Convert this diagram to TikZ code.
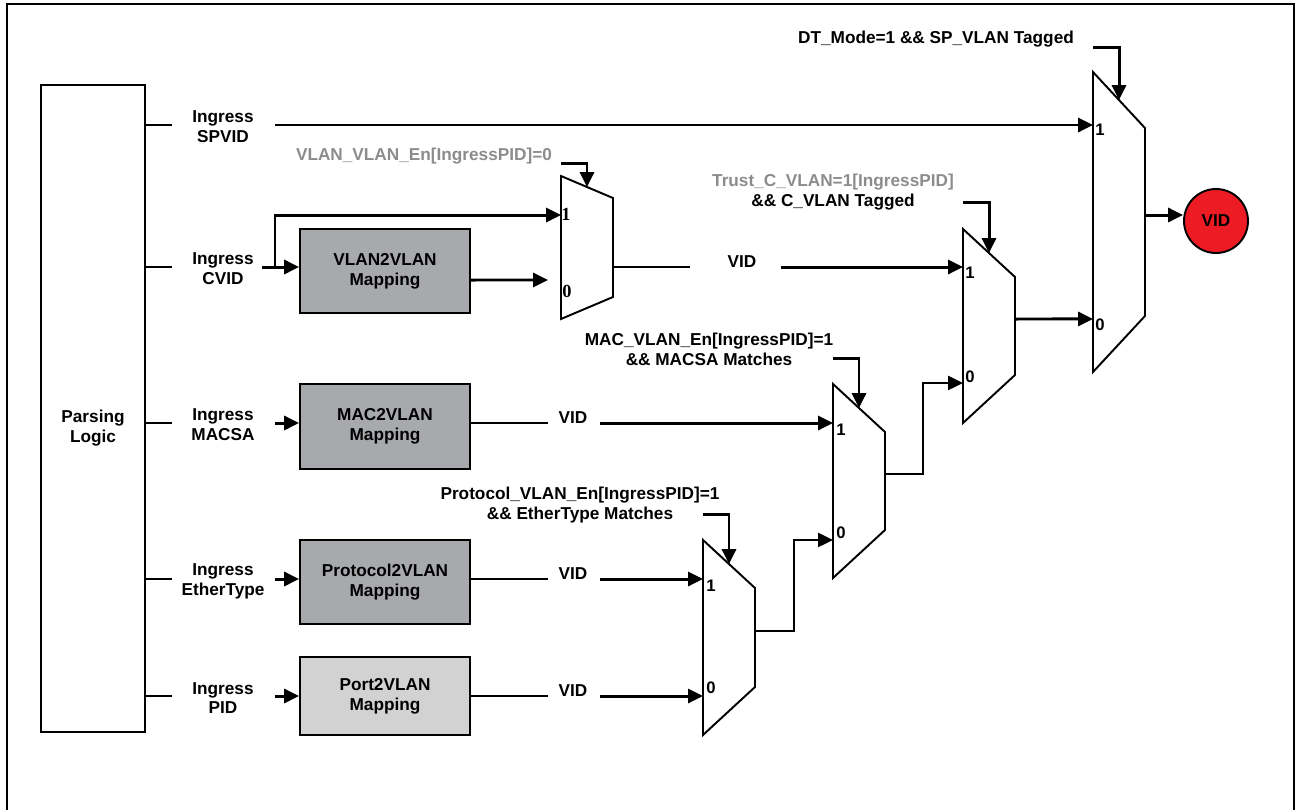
\documentclass[tikz,border=0pt]{standalone}
\usepackage{fontspec}
\setmainfont{Liberation Sans}
\newfontfamily\numserif{Liberation Serif}
\usetikzlibrary{positioning,arrows.meta,calc}
\definecolor{grisosc}{HTML}{A7A9AC}
\definecolor{grisclaro}{HTML}{D2D2D2}
\definecolor{gristxt}{HTML}{8C8C8C}
\definecolor{rojo}{HTML}{ED1C24}

% trapezoid of a multiplexer drawn round an empty node
\newcommand{\muxgate}[2]{%
  \draw[mx] (#1.north west) -- ($(#1.north east)+(0,#2)$)
    -- ($(#1.south east)+(0,-#2)$) -- (#1.south west) -- cycle;}

\begin{document}
\begin{tikzpicture}[x=0.02cm, y=-0.02cm,
    font=\fontsize{9.8}{11.3}\selectfont\bfseries,
    lbl/.style={align=center, inner sep=0pt},
    map/.style={draw, line width=1.1pt, minimum width=3.4cm, minimum height=1.68cm,
                align=center, inner sep=0pt},
    muxb/.style={minimum width=1.04cm, inner sep=0pt, outer sep=0pt},
    mx/.style={line width=1.1pt},
    sel/.style={align=center, inner sep=0pt},
    pin01/.style={inner sep=0pt, font=\fontsize{9.5}{10}\selectfont\bfseries},
    stub/.style={line width=1.1pt},
    arr/.style={-{Triangle[length=8.5pt,width=8pt]}, line width=1.7pt}]
  \useasboundingbox (0,0) rectangle (1296,809);
  \draw[line width=1.5pt] (7,830) -- (7,4) -- (1294,4) -- (1294,830);

  % parsing block and its outputs
  \node[draw, line width=1.1pt, minimum width=2.08cm, minimum height=12.94cm,
        inner sep=0pt] (parse) at (93,408.5) {};
  \node[lbl] (parsetxt) at (93,428) {Parsing\\Logic};
  \node[lbl] (spvid) at (223,127) {Ingress\\SPVID};
  \node[lbl] (cvid) at (223,269) {Ingress\\CVID};
  \node[lbl] (macsa) at (223,425) {Ingress\\MACSA};
  \node[lbl] (ethtype) at (223,581) {Ingress\\EtherType};
  \node[lbl] (pid) at (223,698) {Ingress\\PID};
  \foreach \n in {spvid,cvid,macsa,ethtype,pid}
    \draw[stub] ($(parse.east |- \n)+(0,-2)$) -- ++(26,0);

  % mapping tables
  \node[map, fill=grisosc] (v2v) at (385,271) {VLAN2VLAN\\Mapping};
  \node[map, fill=grisosc, minimum height=1.7cm] (mac2v) at (385,426.5) {MAC2VLAN\\Mapping};
  \node[map, fill=grisosc] (pro2v) at (385,582) {Protocol2VLAN\\Mapping};
  \node[map, fill=grisclaro, minimum height=1.56cm] (port2v) at (385,696) {Port2VLAN\\Mapping};

  % multiplexers
  \node[muxb, minimum height=2.86cm] (m1) at (587,247.5) {};
  \node[muxb, minimum height=3.88cm] (m2) at (859,481) {};
  \node[muxb, minimum height=3.88cm] (m3) at (989,326) {};
  \node[muxb, minimum height=6cm] (m4) at (1119,222) {};
  \node[muxb, minimum height=3.9cm] (m5) at (729,637.5) {};
  \muxgate{m1}{22}
  \muxgate{m2}{48}
  \muxgate{m3}{48}
  \muxgate{m4}{56}
  \muxgate{m5}{48}
  \node[pin01, font=\numserif\fontsize{10.5}{11}\selectfont\bfseries] (m1a) at (566,214) {1};
  \node[pin01, font=\numserif\fontsize{10.5}{11}\selectfont\bfseries] (m1b) at (567,291) {0};
  \node[pin01] (m4a) at (1100,130) {1};
  \node[pin01] (m4b) at (1100,325) {0};
  \node[pin01] (m3a) at (970,273) {1};
  \node[pin01] (m3b) at (970,377) {0};
  \node[pin01] (m2a) at (841,429.5) {1};
  \node[pin01] (m2b) at (841,533) {0};
  \node[pin01] (m5a) at (711,586) {1};
  \node[pin01] (m5b) at (711,688) {0};

  % ingress fields into tables
  \draw[arr] ($(spvid)+(52,-2)$) -- ($(m4.west |- spvid)+(0,-2)$);
  \draw[arr] ($(cvid)+(39,-2)$) -- ($(v2v.west |- cvid)+(0,-2)$);
  \draw[arr] ($(cvid)+(52,-2)$) |- ($(m1.north west)+(0,39)$);
  \foreach \n/\b in {macsa/mac2v, ethtype/pro2v, pid/port2v}
    \draw[arr] ($(\n)+(52,-2)$) -- ($(\b.west |- \n)+(0,-2)$);
  \draw[arr] ($(v2v.east)+(0,9)$) -- ($(m1.south west)+(-13,-39)$);

  % table results
  \node[lbl, anchor=base] (vid1) at (742,267) {VID};
  \node[lbl, anchor=base] (vid2) at (573,423) {VID};
  \node[lbl, anchor=base] (vid3) at (573,579) {VID};
  \node[lbl, anchor=base] (vid4) at (573,696) {VID};
  \draw[stub] (m1.east |- vid1.base) -- ++(77,0);
  \draw[arr] ($(vid1.base)+(39,0)$) -- (m3.west |- vid1.base);
  \foreach \b/\v/\m in {mac2v/vid2/m2, pro2v/vid3/m5, port2v/vid4/m5} {
    \draw[stub] (\b.east |- \v.base) -- ++(77,0);
    \draw[arr] ($(\v.base)+(27,0)$) -- (\m.west |- \v.base);
  }

  % mux chain
  \draw[arr, line width=1.2pt] ($(m5.east)+(0,-6.5)$) -- ++(39,0) |- ($(m2.south west)+(0,-38)$);
  \draw[arr, line width=1.2pt] ($(m2.east)+(0,-7)$) -- ++(38,0) |- ($(m3.south west)+(0,-40)$);
  \draw[arr] ($(m3.east)+(0,-7)$) -- ($(m4.south west)+(0,-53)$);
  \node[circle, draw, line width=1.1pt, fill=rojo, minimum size=1.28cm,
        inner sep=0pt] (vidout) at (1216,221) {VID};
  \coordinate (m4out) at ($(m4.east)+(0,-7)$);
  \draw[arr] (m4out) -- (m4out -| vidout.west);

  % select conditions
  \node[sel] (sel4) at (936,39) {DT\_Mode=1 \&\& SP\_VLAN Tagged};
  \draw[arr] ($(m4.north west)+(0,-25)$) -| ($(m4.north)+(0,28)$);
  \node[sel, text=gristxt] (sel1) at (424,156) {VLAN\_VLAN\_En[IngressPID]=0};
  \draw[arr] ($(m1.north west)+(0,-13)$) -| ($(m1.north)+(0,11)$);
  \node[sel] (sel3) at (833,192.5)
    {\textcolor{gristxt}{Trust\_C\_VLAN=1[IngressPID]}\\\&\& C\_VLAN Tagged};
  \draw[arr] ($(m3.north west)+(0,-27)$) -| ($(m3.north)+(0,24)$);
  \node[sel] (sel2) at (709,349) {MAC\_VLAN\_En[IngressPID]=1\\\&\& MACSA Matches};
  \draw[arr] ($(m2.north west)+(0,-26)$) -| ($(m2.north)+(0,24)$);
  \node[sel] (sel5) at (580,505)
    {Protocol\_VLAN\_En[IngressPID]=1\\\&\& EtherType Matches};
  \draw[arr] ($(m5.north west)+(0,-26)$) -| ($(m5.north)+(0,24)$);
\end{tikzpicture}
\end{document}
